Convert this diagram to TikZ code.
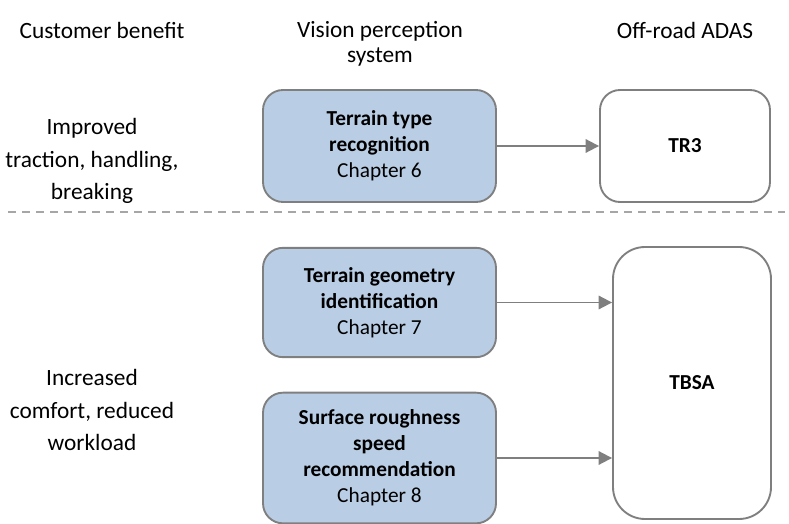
\documentclass[tikz,border=0pt]{standalone}
\usepackage{fontspec}
\setmainfont{Carlito}
\usepackage{xcolor}
\usetikzlibrary{arrows.meta,positioning}
\definecolor{ink}{HTML}{000000}
\definecolor{edgegray}{HTML}{7F7F7F}
\definecolor{dashgray}{HTML}{A6A6A6}
\definecolor{bluepale}{HTML}{B9CDE4}
\tikzset{
  >={Triangle[length=10pt,width=10pt]},
  module/.style={draw=edgegray,fill=bluepale,rounded corners=15pt,line width=1.4pt,align=center,inner sep=0pt,
    minimum width=174.75pt,text=ink,font=\fontsize{16}{19.5}\selectfont},
  adas/.style={draw=edgegray,fill=white,line width=1.4pt,align=center,inner sep=0pt,text=ink,
    font=\bfseries\fontsize{16}{19.5}\selectfont},
  heading/.style={align=center,text=ink,font=\fontsize{17.5}{19}\selectfont},
  benefit/.style={align=center,text=ink,font=\fontsize{17.5}{24.5}\selectfont},
  link/.style={->,line width=1.4pt,color=edgegray},
  divider/.style={line width=1.4pt,color=dashgray,dash pattern=on 6pt off 4.5pt},
}

\begin{document}
\begin{tikzpicture}[x=0.75pt,y=-0.75pt]
  \useasboundingbox (0,0) rectangle (789,524);
  % column headings
  \node[heading] (hbenefit) at (102,30) {Customer benefit};
  \node[heading] (hvision) at (380,44) {Vision perception\\system};
  \node[heading] (hadas) at (685,30) {Off-road ADAS};
  % benefits
  \node[benefit] (traction) at (92,161) {Improved\\traction, handling,\\breaking};
  \node[benefit] (comfort) at (92,410) {Increased\\comfort, reduced\\workload};
  \draw[divider] (8,212) -- (785,212);
  % perception modules
  \node[module,minimum height=84pt] (ttr) at (379.5,146) {\textbf{Terrain type}\\\textbf{recognition}\\Chapter 6};
  \node[module,minimum height=82pt] (tgi) at (379.5,302.5) {\textbf{Terrain geometry}\\\textbf{identification}\\Chapter 7};
  \node[module,minimum height=98pt] (srs) at (379.5,458) {\textbf{Surface roughness}\\\textbf{speed}\\\textbf{recommendation}\\Chapter 8};
  % ADAS functions
  \node[adas,rounded corners=15pt,minimum width=127.5pt,minimum height=84pt] (tr3) at (685,146) {TR3};
  \node[adas,rounded corners=24pt,minimum width=118.5pt,minimum height=204pt] (tbsa) at (692,383) {TBSA};
  \draw[link] (ttr) -- (tr3);
  \draw[link] (tgi.east) -- (tgi.east -| tbsa.west);
  \draw[link] (srs.east) -- (srs.east -| tbsa.west);
\end{tikzpicture}
\end{document}
